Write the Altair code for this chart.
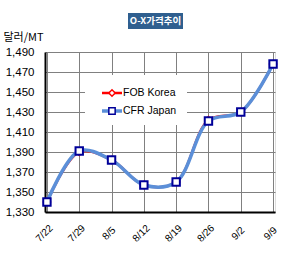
import altair as alt
import pandas as pd

dates = ["7/22", "7/29", "8/5", "8/12", "8/19", "8/26", "9/2", "9/9"]
fob_korea = [1340, 1390, 1382, 1357, 1360, 1422, 1430, 1478]
cfr_japan = [1340, 1391, 1382, 1357, 1360, 1421, 1430, 1478]
series_names = ["FOB Korea", "CFR Japan"]
y_ticks = [1330, 1350, 1370, 1390, 1410, 1430, 1450, 1470, 1490]
title_text = "O-X가격추이"
y_unit = "달러/MT"

df = pd.DataFrame({
    "date": dates * 2,
    "price": fob_korea + cfr_japan,
    "series": [series_names[0]] * len(dates) + [series_names[1]] * len(dates),
})

FONT = "Liberation Sans"
NARROW = "Liberation Sans Narrow, Liberation Sans"
one = pd.DataFrame({"k": [0]})

x_enc = alt.X("date:N", sort=dates,
              scale=alt.Scale(type="point", padding=0.06),
              axis=alt.Axis(title=None, labelAngle=-45, labelAlign="center",
                            labelBaseline="middle", labelPadding=21, labelOffset=-3,
                            ticks=False, grid=True, gridColor="#808080",
                            labelFont=FONT, labelFontSize=10, labelColor="#000000",
                            domainColor="#000000", domainWidth=2))
y_enc = alt.Y("price:Q", scale=alt.Scale(domain=[1330, 1490], nice=False, zero=False),
              axis=alt.Axis(values=y_ticks, format=",d", ticks=False, labelPadding=11,
                            grid=True, gridColor="#808080",
                            labelFont=NARROW, labelFontSize=11.5, labelColor="#000000",
                            domainColor="#000000", domainWidth=2,
                            title=y_unit, titleAngle=0, titleAlign="left",
                            titleBaseline="middle", titleX=-42, titleY=-15,
                            titleFont="Noto Sans CJK KR", titleFontSize=11,
                            titleFontWeight="normal", titleColor="#000000"))

base = alt.Chart(df)

red_line = base.transform_filter(alt.datum.series == series_names[0]).mark_line(
    color="#ff0000", strokeWidth=2.5, interpolate="catmull-rom").encode(x=x_enc, y=y_enc)
red_pts = base.transform_filter(alt.datum.series == series_names[0]).mark_point(
    shape="diamond", filled=True, fill="#ffffff", stroke="#ff0000", strokeWidth=1.5,
    size=50, opacity=1).encode(x=x_enc, y=y_enc)
blue_line = base.transform_filter(alt.datum.series == series_names[1]).mark_line(
    color="#5b8fd8", strokeWidth=3.5, interpolate="catmull-rom").encode(x=x_enc, y=y_enc)
blue_pts = base.transform_filter(alt.datum.series == series_names[1]).mark_point(
    shape="square", filled=True, fill="#ffffff", stroke="#000099", strokeWidth=2,
    size=55, opacity=1).encode(x=x_enc, y=y_enc)

# legend (inside the plot)
leg_bg = alt.Chart(one).mark_rect(fill="#ffffff").encode(
    x=alt.value(40), x2=alt.value(142), y=alt.value(23), y2=alt.value(73))
leg_layers = [leg_bg]
styles = [("#ff0000", "diamond", "#ff0000", 2.5), ("#5b8fd8", "square", "#000099", 3.5)]
for i, name in enumerate(series_names):
    yy = 41 + 18 * i
    lc, shp, mc, lw = styles[i]
    leg_layers.append(alt.Chart(one).mark_rule(color=lc, strokeWidth=lw).encode(
        x=alt.value(57), x2=alt.value(77), y=alt.value(yy)))
    leg_layers.append(alt.Chart(one).mark_point(
        shape=shp, filled=True, fill="#ffffff", stroke=mc, strokeWidth=1.5,
        size=40, opacity=1).encode(x=alt.value(67), y=alt.value(yy)))
    leg_layers.append(alt.Chart(one).mark_text(
        text=name, align="left", baseline="middle", font=FONT, fontSize=10.5,
        color="#000000").encode(x=alt.value(78), y=alt.value(yy)))

# title box
title_bg = alt.Chart(one).mark_rect(fill="#2f5f8f").encode(
    x=alt.value(83), x2=alt.value(138), y=alt.value(-39), y2=alt.value(-23))
title_txt = alt.Chart(one).mark_text(
    text=title_text, align="center", baseline="middle", font="Noto Sans CJK KR",
    fontSize=9.5, fontWeight="bold", color="#ffffff").encode(
    x=alt.value(110.5), y=alt.value(-31))

chart = alt.layer(red_line, red_pts, blue_line, blue_pts, *leg_layers,
                  title_bg, title_txt).properties(
    width=230, height=160,
    autosize=alt.AutoSizeParams(type="none"),
    padding={"left": 45, "top": 52, "right": 12, "bottom": 51},
).configure_view(stroke="#808080", strokeWidth=1.5).configure(background="#ffffff")

chart.save("out.html", embed_options={"renderer": "svg", "actions": False})
